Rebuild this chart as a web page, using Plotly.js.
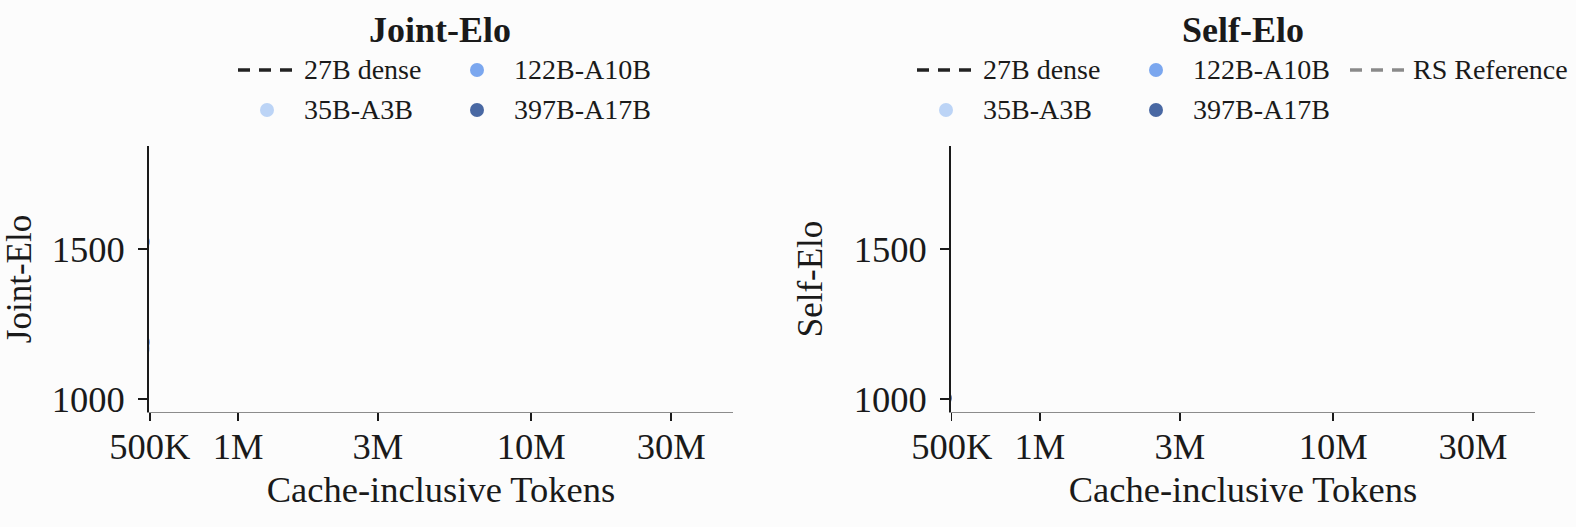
<!DOCTYPE html>
<html>
    <head>
        <script src="https://cdn.plot.ly/plotly-3.0.1.min.js"></script>
        <style>
            body { margin: 0; background: #fcfcfc; }
        </style>
    </head>
    <body>
        <div id="plot"></div>
        <script type="text/javascript">
            // token ticks shared by both panels
            var tokenTicks = [5e5, 1e6, 3e6, 1e7, 3e7];
            var tokenTickText = ['500K', '1M', '3M', '10M', '30M'];
            var eloTicks = [1000, 1500];

            var modelNames = ['27B dense', '35B-A3B', '122B-A10B', '397B-A17B'];
            var modelColors = ['#222222', '#bcd4f6', '#7ba7ef', '#4968a3'];
            var rsName = 'RS Reference';
            var rsColor = '#8a8a8a';

            // Joint-Elo: almost everything sits left of 500K, only edges peek in
            var jointTokens27 = [300000, 420000];
            var jointElo27 = [1120, 1260];
            var jointTokens35 = [474000];
            var jointElo35 = [1168];
            var jointTokens122 = [474000, 474000];
            var jointElo122 = [1525, 1190];
            var jointTokens397 = [380000];
            var jointElo397 = [1420];

            // Self-Elo
            var selfTokens27 = [300000, 420000];
            var selfElo27 = [1080, 1210];
            var selfTokens35 = [360000];
            var selfElo35 = [1110];
            var selfTokens122 = [390000];
            var selfElo122 = [1240];
            var selfTokens397 = [474000];
            var selfElo397 = [1003];
            var rsTokens = [200000, 400000];
            var rsElo = [1300, 1300];

            var FONT = 'Liberation Serif, Times New Roman, serif';
            var INK = '#1a1a1a';
            var W = 1576, H = 527;
            var M = {l: 149, r: 41, t: 146, b: 115};

            function lineTrace(x, y, color, xa, ya) {
                return {x: x, y: y, mode: 'lines', xaxis: xa, yaxis: ya, showlegend: false,
                        line: {color: color, width: 3, dash: 'dash'}, hoverinfo: 'skip'};
            }
            function dotTrace(x, y, color, xa, ya) {
                return {x: x, y: y, mode: 'markers', xaxis: xa, yaxis: ya, showlegend: false,
                        marker: {color: color, size: 14}, hoverinfo: 'skip'};
            }

            var traces = [
                lineTrace(jointTokens27, jointElo27, modelColors[0], 'x', 'y'),
                dotTrace(jointTokens35, jointElo35, modelColors[1], 'x', 'y'),
                dotTrace(jointTokens122, jointElo122, modelColors[2], 'x', 'y'),
                dotTrace(jointTokens397, jointElo397, modelColors[3], 'x', 'y'),

                lineTrace(selfTokens27, selfElo27, modelColors[0], 'x2', 'y2'),
                dotTrace(selfTokens35, selfElo35, modelColors[1], 'x2', 'y2'),
                dotTrace(selfTokens122, selfElo122, modelColors[2], 'x2', 'y2'),
                dotTrace(selfTokens397, selfElo397, modelColors[3], 'x2', 'y2'),
                lineTrace(rsTokens, rsElo, rsColor, 'x2', 'y2')
            ];

            var xRange = [Math.log10(497000), Math.log10(48.8e6)];
            var yRange = [956.6, 1845];

            function xAxis(domain) {
                return {
                    type: 'log', domain: domain, range: xRange,
                    tickvals: tokenTicks, ticktext: tokenTickText,
                    ticks: 'outside', ticklen: 8, tickwidth: 1.5, tickcolor: INK,
                    ticklabelstandoff: -6,
                    showline: true, linecolor: '#8c8c8c', linewidth: 1,
                    showgrid: false, zeroline: false,
                    tickfont: {family: FONT, size: 36.5, color: INK},
                    title: {text: 'Cache-inclusive Tokens', standoff: 10,
                            font: {family: FONT, size: 36.5, color: INK}}
                };
            }
            function yAxis(anchor, label) {
                return {
                    anchor: anchor, range: yRange,
                    tickvals: eloTicks,
                    ticks: 'outside', ticklen: 9, tickwidth: 2, tickcolor: INK,
                    ticklabelstandoff: 6,
                    showline: true, linecolor: INK, linewidth: 2,
                    showgrid: false, zeroline: false,
                    tickfont: {family: FONT, size: 36.5, color: INK},
                    title: {text: label, standoff: 20,
                            font: {family: FONT, size: 35, color: INK}}
                };
            }

            // pixel -> paper helpers for the hand-built legends
            function px(x) { return (x - M.l) / (W - M.l - M.r); }
            function py(y) { return (H - M.b - y) / (H - M.t - M.b); }

            var shapes = [];
            var annotations = [];

            function legendLine(x0, y, color) {
                shapes.push({type: 'line', xref: 'paper', yref: 'paper',
                             x0: px(x0), x1: px(x0 + 54), y0: py(y), y1: py(y),
                             line: {color: color, width: 3.5, dash: '12px,9px'}});
            }
            function legendDot(cx, y, color) {
                shapes.push({type: 'circle', xref: 'paper', yref: 'paper',
                             x0: px(cx - 7), x1: px(cx + 7), y0: py(y + 7), y1: py(y - 7),
                             fillcolor: color, line: {width: 0}});
            }
            function legendText(x, y, text) {
                annotations.push({text: text, xref: 'paper', yref: 'paper', x: px(x), y: py(y),
                                  xanchor: 'left', yanchor: 'middle', showarrow: false,
                                  font: {family: FONT, size: 28, color: INK}});
            }
            function buildLegend(x0, withRS) {
                var row1 = 70, row2 = 110;
                legendLine(x0, row1, modelColors[0]);
                legendText(x0 + 64, row1, modelNames[0]);
                legendDot(x0 + 29, row2, modelColors[1]);
                legendText(x0 + 64, row2, modelNames[1]);
                legendDot(x0 + 239, row1, modelColors[2]);
                legendText(x0 + 274, row1, modelNames[2]);
                legendDot(x0 + 239, row2, modelColors[3]);
                legendText(x0 + 274, row2, modelNames[3]);
                if (withRS) {
                    legendLine(x0 + 433, row1, rsColor);
                    legendText(x0 + 494, row1, rsName);
                }
            }
            buildLegend(238, false);
            buildLegend(917, true);

            annotations.push(
                {text: '<b>Joint-Elo</b>', xref: 'paper', yref: 'paper', x: px(440), y: py(30),
                 xanchor: 'center', yanchor: 'middle', showarrow: false,
                 font: {family: FONT, size: 36, color: INK}},
                {text: '<b>Self-Elo</b>', xref: 'paper', yref: 'paper', x: px(1243), y: py(30),
                 xanchor: 'center', yanchor: 'middle', showarrow: false,
                 font: {family: FONT, size: 36, color: INK}}
            );

            var layout = {
                width: W, height: H, margin: M,
                paper_bgcolor: '#fcfcfc', plot_bgcolor: '#fcfcfc',
                showlegend: false,
                xaxis: xAxis([0, 0.4214]),
                yaxis: yAxis('x', 'Joint-Elo'),
                xaxis2: xAxis([0.5786, 1]),
                yaxis2: yAxis('x2', 'Self-Elo'),
                shapes: shapes,
                annotations: annotations
            };

            Plotly.newPlot('plot', traces, layout, {displayModeBar: false, staticPlot: true});
        </script>
    </body>
</html>
